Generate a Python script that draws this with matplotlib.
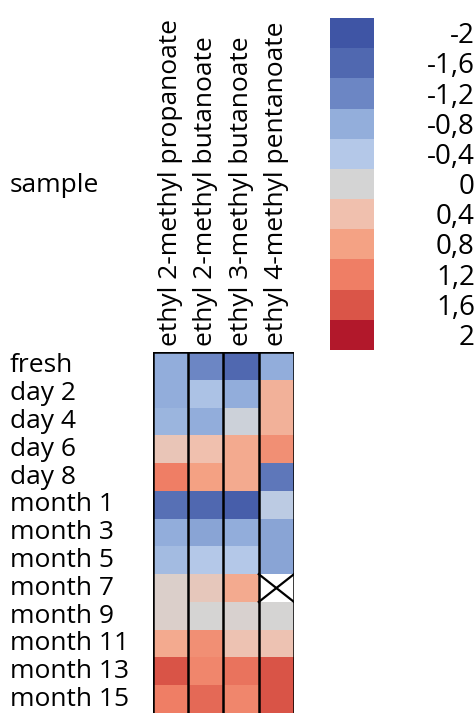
import numpy as np
import matplotlib
matplotlib.use("Agg")
import matplotlib.pyplot as plt
from matplotlib.colors import LinearSegmentedColormap

plt.rcParams['font.family'] = ['Open Sans', 'DejaVu Sans']

samples = ["fresh", "day 2", "day 4", "day 6", "day 8", "month 1", "month 3",
           "month 5", "month 7", "month 9", "month 11", "month 13", "month 15"]
compounds = ["ethyl 2-methyl propanoate", "ethyl 2-methyl butanoate",
             "ethyl 3-methyl butanoate", "ethyl 4-methyl pentanoate"]

# z-scores, one row per sample
values = np.array([
    [-0.8, -1.2, -1.6, -0.8],
    [-0.8, -0.5, -0.8, 0.6],
    [-0.7, -0.8, -0.1, 0.6],
    [0.3, 0.4, 0.7, 1.0],
    [1.2, 0.8, 0.7, -1.4],
    [-1.5, -1.6, -1.8, -0.3],
    [-0.8, -0.9, -0.8, -0.9],
    [-0.6, -0.4, -0.4, -0.9],
    [0.1, 0.25, 0.7, np.nan],
    [0.1, 0.0, 0.05, 0.0],
    [0.7, 1.0, 0.35, 0.35],
    [1.6, 1.1, 1.3, 1.6],
    [1.2, 1.4, 1.1, 1.6],
])

legend_levels = [-2, -1.6, -1.2, -0.8, -0.4, 0, 0.4, 0.8, 1.2, 1.6, 2]
legend_colors = ["#3f55a5", "#5068b0", "#6c86c4", "#93aedb", "#b4c8e8", "#d4d4d4",
                 "#f0c0ae", "#f4a284", "#ef7e65", "#da5548", "#b2182b"]

cmap = LinearSegmentedColormap.from_list("zs", legend_colors)
cmap.set_bad("white")

W, H = 477, 713
fig = plt.figure(figsize=(W / 100, H / 100), dpi=100)

# heatmap
ax = fig.add_axes([153 / W, 0, 141 / W, 361 / H])
data = np.ma.masked_invalid(values)
ax.pcolormesh(data, cmap=cmap, vmin=-2, vmax=2)
ax.set_xlim(0, len(compounds))
ax.set_ylim(len(samples), 0)
for x in range(len(compounds) + 1):
    ax.axvline(x, color="black", lw=1.8)
ax.axhline(0, color="black", lw=1.8)
for r, c in zip(*np.where(np.isnan(values))):
    ax.plot([c, c + 1], [r, r + 1], color="black", lw=1.6)
    ax.plot([c, c + 1], [r + 1, r], color="black", lw=1.6)
for s in ax.spines.values():
    s.set_visible(False)
ax.set_xticks([])
ax.set_yticks([])

fs = 19
for i, name in enumerate(samples):
    fig.text(10 / W, 1 - (352 + (i + 0.5) * 27.8) / H, name, fontsize=fs,
             ha="left", va="center")
for j, name in enumerate(compounds):
    fig.text((153 + (j + 0.5) * 35.25) / W, 1 - 346 / H, name, fontsize=fs,
             rotation=90, ha="center", va="bottom")
fig.text(10 / W, 1 - 185 / H, "sample", fontsize=fs, ha="left", va="center")

# legend
lax = fig.add_axes([330 / W, 1 - 350 / H, 44 / W, 332 / H])
n = len(legend_levels)
lax.pcolormesh(np.arange(n).reshape(-1, 1), cmap=LinearSegmentedColormap.from_list("lg", legend_colors, N=n),
               vmin=-0.5, vmax=n - 0.5)
lax.set_ylim(n, 0)
lax.set_xticks([])
lax.set_yticks([])
for s in lax.spines.values():
    s.set_visible(False)
for k, lv in enumerate(legend_levels):
    lab = ("%g" % lv).replace(".", ",")
    fig.text(475 / W, 1 - (21 + (k + 0.5) * 30.2) / H, lab, fontsize=20,
             ha="right", va="center")

fig.savefig("out.png", dpi=100)
